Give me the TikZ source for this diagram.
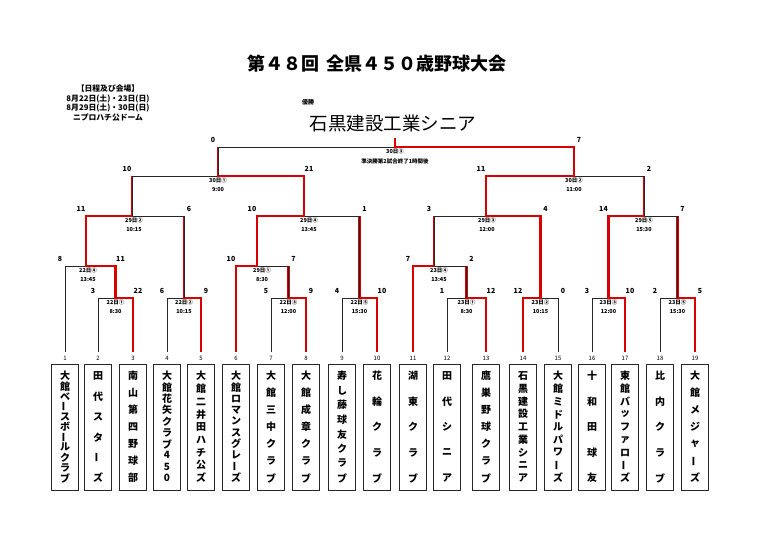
\documentclass[tikz,border=0pt]{standalone}
\usepackage{fontspec}
\newfontfamily\cjk{Noto Sans CJK JP}
\newcommand\V{\rotatebox{90}{ー}}
\tikzset{
 win/.style={draw=red!85!black,line width=2.4pt,line join=miter},
 lose/.style={draw=black!85,line width=1pt},
 sc/.style={font=\cjk\bfseries\fontsize{7}{7}\selectfont,inner sep=0pt},
 lb/.style={font=\cjk\bfseries\fontsize{5.5}{6}\selectfont,inner sep=0pt},
 box/.style={draw=black!85,line width=0.9pt,minimum width=27pt,minimum height=126pt,inner sep=0pt},
 ch/.style={font=\cjk\bfseries\fontsize{10}{10}\selectfont,inner sep=0pt}
}
% xl xc xr y ylb yrb ytop w(0=left,1=right)
\newcommand\mt[8]{%
 \ifnum#8=0
  \draw[lose] (#2,#4)--(#3,#4)--(#3,#6);
  \draw[win] (#1,#5)--(#1,#4)--(#2,#4)--(#2,#7);
 \else
  \draw[lose] (#2,#4)--(#1,#4)--(#1,#5);
  \draw[win] (#3,#6)--(#3,#4)--(#2,#4)--(#2,#7);
 \fi}
\newcommand\sco[5]{\node[sc] at (#1-5,#3-7) {#4};\node[sc] at (#2+5,#3-7) {#5};}
\newcommand\lab[4]{\node[lb] at (#1,#2+4) {#3};\node[lb] at (#1,#2+13.5) {#4};}
\newcommand\team[5]{%
 \node[box] (t#3) at (#2,427) {};
 \node[lb,font=\cjk\fontsize{6}{6}\selectfont] at (#2,358) {#3};
 \foreach \c [count=\i] in {#5} {\node[ch] at (#2,{376+(\i-1)*102/(#4-1)}) {\c};}}
\begin{document}
\begin{tikzpicture}[x=1pt,y=-1pt]
\useasboundingbox (0,0) rectangle (768,533);
\node[font=\cjk\bfseries\fontsize{18}{18}\selectfont] (title) at (377,64) {第４８回\hspace{8pt}全県４５０歳野球大会};
\node[font=\cjk\bfseries\fontsize{7.8}{9.6}\selectfont,align=center] (info) at (108,103) {【日程及び会場】\\8月22日(土)・23日(日)\\8月29日(土)・30日(日)\\ニプロハチ公ドーム};
\node[font=\cjk\bfseries\fontsize{6}{6}\selectfont] (yu) at (308,102) {優勝};
\node[font=\cjk\fontsize{18.5}{18}\selectfont] (champ) at (393,123) {石黒建設工業シニア};
% teams
\team{a}{65}{1}{11}{大,館,ベ,\V,ス,ボ,\V,ル,ク,ラ,ブ}
\team{a}{98}{2}{6}{田,代,ス,タ,\V,ズ}
\team{a}{133}{3}{7}{南,山,第,四,野,球,部}
\team{a}{167}{4}{10}{大,館,花,矢,ク,ラ,ブ,4,5,0}
\team{a}{201}{5}{9}{大,館,二,井,田,ハ,チ,公,ズ}
\team{a}{236}{6}{10}{大,館,ロ,マ,ン,ス,グ,レ,\V,ズ}
\team{a}{271}{7}{7}{大,館,三,中,ク,ラ,ブ}
\team{a}{306}{8}{7}{大,館,成,章,ク,ラ,ブ}
\team{a}{342}{9}{8}{寿,し,藤,球,友,ク,ラ,ブ}
\team{a}{377}{10}{5}{花,輪,ク,ラ,ブ}
\team{a}{413}{11}{5}{湖,東,ク,ラ,ブ}
\team{a}{447}{12}{5}{田,代,シ,ニ,ア}
\team{a}{486}{13}{7}{鷹,巣,野,球,ク,ラ,ブ}
\team{a}{523}{14}{9}{石,黒,建,設,工,業,シ,ニ,ア}
\team{a}{558}{15}{9}{大,館,ミ,ド,ル,パ,ワ,\V,ズ}
\team{a}{592}{16}{5}{十,和,田,球,友}
\team{a}{625}{17}{9}{東,館,バ,ッ,フ,ァ,ロ,\V,ズ}
\team{a}{660}{18}{5}{比,内,ク,ラ,ブ}
\team{a}{695}{19}{7}{大,館,メ,ジ,ャ,\V,ズ}
% round 1
\mt{98}{115.5}{133}{298}{352}{352}{266}{1} \sco{98}{133}{298}{3}{22} \lab{115.5}{298}{22日①}{8:30}
\mt{167}{184}{201}{298}{352}{352}{216}{1} \sco{167}{201}{298}{6}{9} \lab{184}{298}{22日②}{10:15}
\mt{271}{288.5}{306}{298}{352}{352}{266}{1} \sco{271}{306}{298}{5}{9} \lab{288.5}{298}{22日③}{12:00}
\mt{342}{359.5}{377}{298}{352}{352}{216}{1} \sco{342}{377}{298}{4}{10} \lab{359.5}{298}{22日⑤}{15:30}
\mt{447}{466.5}{486}{298}{352}{352}{266}{1} \sco{447}{486}{298}{1}{12} \lab{466.5}{298}{23日①}{8:30}
\mt{523}{540.5}{558}{298}{352}{352}{216}{0} \sco{523}{558}{298}{12}{0} \lab{540.5}{298}{23日②}{10:15}
\mt{592}{608.5}{625}{298}{352}{352}{216}{1} \sco{592}{625}{298}{3}{10} \lab{608.5}{298}{23日③}{12:00}
\mt{660}{677.5}{695}{298}{352}{352}{216}{1} \sco{660}{695}{298}{2}{5} \lab{677.5}{298}{23日⑤}{15:30}
% round 2
\mt{65}{86}{115.5}{266}{352}{298}{216}{1} \sco{65}{115.5}{266}{8}{11} \lab{88}{266}{22日④}{13:45}
\mt{236}{257}{288.5}{266}{352}{298}{216}{0} \sco{236}{288.5}{266}{10}{7} \lab{262}{266}{29日①}{8:30}
\mt{413}{434}{466.5}{266}{352}{298}{216}{0} \sco{413}{466.5}{266}{7}{2} \lab{439}{266}{23日④}{13:45}
% round 3
\mt{86}{132}{184}{216}{266}{298}{176}{0} \sco{86}{184}{216}{11}{6} \lab{134}{216}{29日②}{10:15}
\mt{257}{304}{359.5}{216}{266}{298}{176}{0} \sco{257}{359.5}{216}{10}{1} \lab{309}{216}{29日④}{13:45}
\mt{434}{486}{540.5}{216}{266}{298}{176}{1} \sco{434}{540.5}{216}{3}{4} \lab{487}{216}{29日③}{12:00}
\mt{608.5}{644}{677.5}{216}{298}{298}{176}{0} \sco{608.5}{677.5}{216}{14}{7} \lab{644}{216}{29日⑤}{15:30}
% round 4
\mt{132}{218}{304}{176}{216}{216}{147}{1} \sco{132}{304}{176}{10}{21} \lab{218}{176}{30日①}{9:00}
\mt{486}{574}{644}{176}{216}{216}{147}{0} \sco{486}{644}{176}{11}{2} \lab{574}{176}{30日②}{11:00}
% final
\mt{218}{395}{574}{147}{176}{176}{138}{1} \sco{218}{574}{147}{0}{7}
\node[lb] at (395,151) {30日③};
\node[lb] at (395,161) {準決勝第2試合終了1時間後};
\end{tikzpicture}
\end{document}
